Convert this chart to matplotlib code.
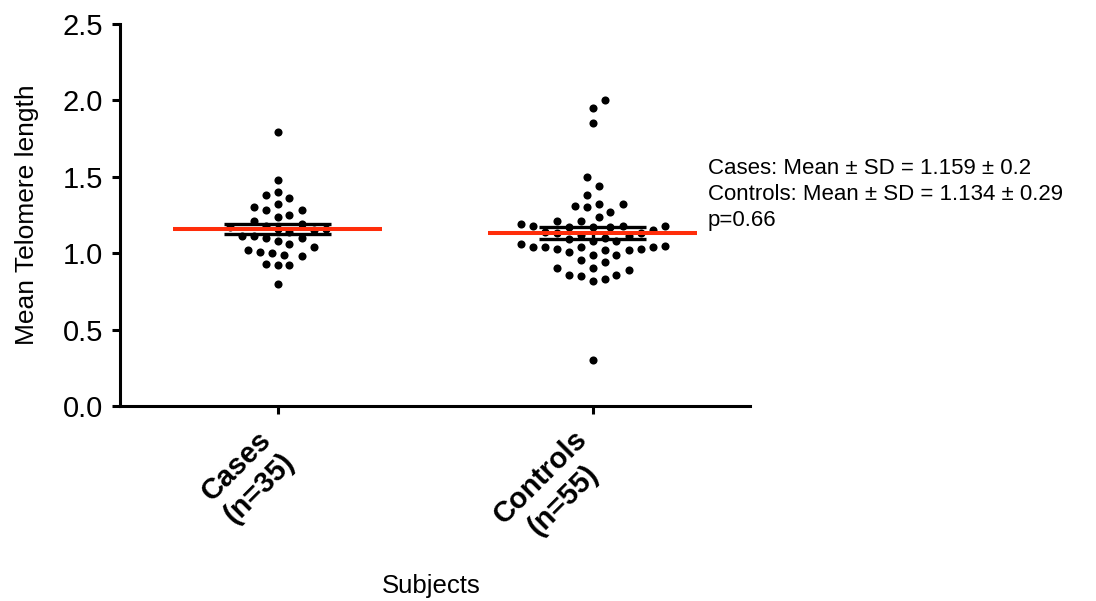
import numpy as np
import matplotlib
matplotlib.use("Agg")
import matplotlib.pyplot as plt
from matplotlib.transforms import ScaledTranslation

plt.rcParams['font.family'] = ['Liberation Sans', 'DejaVu Sans']

categories = ["Cases\n(n=35)", "Controls\n(n=55)"]
cases = [1.79, 1.48, 1.40, 1.38, 1.36, 1.32, 1.30, 1.28, 1.28, 1.25, 1.24, 1.21,
         1.19, 1.18, 1.17, 1.16, 1.16, 1.15, 1.14,
         1.11, 1.11, 1.10, 1.10, 1.08, 1.06, 1.04, 1.02, 1.00, 1.01, 0.99, 0.98,
         0.93, 0.92, 0.92, 0.80]
controls = [2.00, 1.95, 1.85, 1.50, 1.44, 1.38, 1.30, 1.32, 1.32, 1.31, 1.27, 1.24,
            1.21, 1.21,
            1.18, 1.18, 1.17, 1.17, 1.17, 1.18, 1.19,
            1.15, 1.14, 1.13, 1.12, 1.10,
            1.13, 1.11, 1.09, 1.08, 1.08,
            1.04, 1.04, 1.03, 1.02, 1.05, 1.04, 1.02, 1.03, 1.04, 1.06,
            0.99, 0.99, 1.01,
            0.955, 0.94, 0.905, 0.905, 0.89, 0.86, 0.86, 0.85, 0.83, 0.82,
            0.30]
means = [1.159, 1.134]
sds = [0.2, 0.29]
ns = [35, 55]
annot = ["Cases: Mean \u00b1 SD = 1.159 \u00b1 0.2",
         "Controls: Mean \u00b1 SD = 1.134 \u00b1 0.29",
         "p=0.66"]

fig = plt.figure(figsize=(10.96, 6.01), dpi=100)
ax = fig.add_axes([120/1096, 1-406/601, 630/1096, 382/601])
ax.set_xlim(0.5, 2.5)
ax.set_ylim(0, 2.5)

def swarm(ax, xc, vals, dpx=12.0):
    trans = ax.transData
    pts = trans.transform(np.column_stack([np.full(len(vals), xc), vals]))
    order = np.argsort(vals)
    placed = []
    xs = np.zeros(len(vals))
    for i in order:
        px, py = pts[i]
        cands = [0.0]
        for k in range(1, 40):
            cands += [k * dpx / 2, -k * dpx / 2]
        for c in cands:
            ok = True
            for (qx, qy) in placed:
                if (px + c - qx) ** 2 + (py - qy) ** 2 < dpx ** 2 * 0.999:
                    ok = False
                    break
            if ok:
                break
        placed.append((px + c, py))
        xs[i] = px + c
    inv = trans.inverted()
    data = inv.transform(np.column_stack([xs, pts[:, 1]]))
    return data[:, 0]

for pos, vals in zip([1, 2], [cases, controls]):
    xv = swarm(ax, pos, np.array(vals))
    ax.scatter(xv, vals, s=34, color='black', zorder=3, linewidths=0)

for pos, m, sd, n in zip([1, 2], means, sds, ns):
    sem = sd / np.sqrt(n)
    ax.plot([pos - 0.17, pos + 0.17], [m + sem] * 2, color='black', lw=2.4, zorder=4, solid_capstyle='butt')
    ax.plot([pos - 0.17, pos + 0.17], [m - sem] * 2, color='black', lw=2.4, zorder=4, solid_capstyle='butt')
    ax.plot([pos, pos], [m - sem, m + sem], color='black', lw=2.4, zorder=4)
    ax.plot([pos - 0.333, pos + 0.333], [m, m], color='#FF2D0A', lw=2.9, zorder=5, solid_capstyle='butt')

for s in ['top', 'right']:
    ax.spines[s].set_visible(False)
for s in ['left', 'bottom']:
    ax.spines[s].set_linewidth(2.2)

yt = np.arange(0, 2.51, 0.5)
ax.set_yticks(yt)
ax.set_yticklabels([f"{v:.1f}" for v in yt], fontsize=21)
ax.tick_params(axis='both', width=2.2, length=6, direction='out')
ax.tick_params(axis='y', pad=6)
ax.set_xticks([1, 2])
ax.set_xticklabels(categories, fontsize=21, fontweight='bold', rotation=45,
                   ha='right', va='top', rotation_mode='anchor', multialignment='center')
off = ScaledTranslation(-20/100, -6/100, fig.dpi_scale_trans)
for lab in ax.get_xticklabels():
    lab.set_transform(lab.get_transform() + off)
ax.set_ylabel("Mean Telomere length", fontsize=19, labelpad=17)

fig.text(431/1096, 1-586/601, "Subjects", fontsize=18.5, ha='center', va='center')

fig.text(708/1096, 1-158/601, "\n".join(annot), fontsize=16, va='top', ha='left',
         linespacing=1.3)

fig.savefig("out.png", dpi=100)
